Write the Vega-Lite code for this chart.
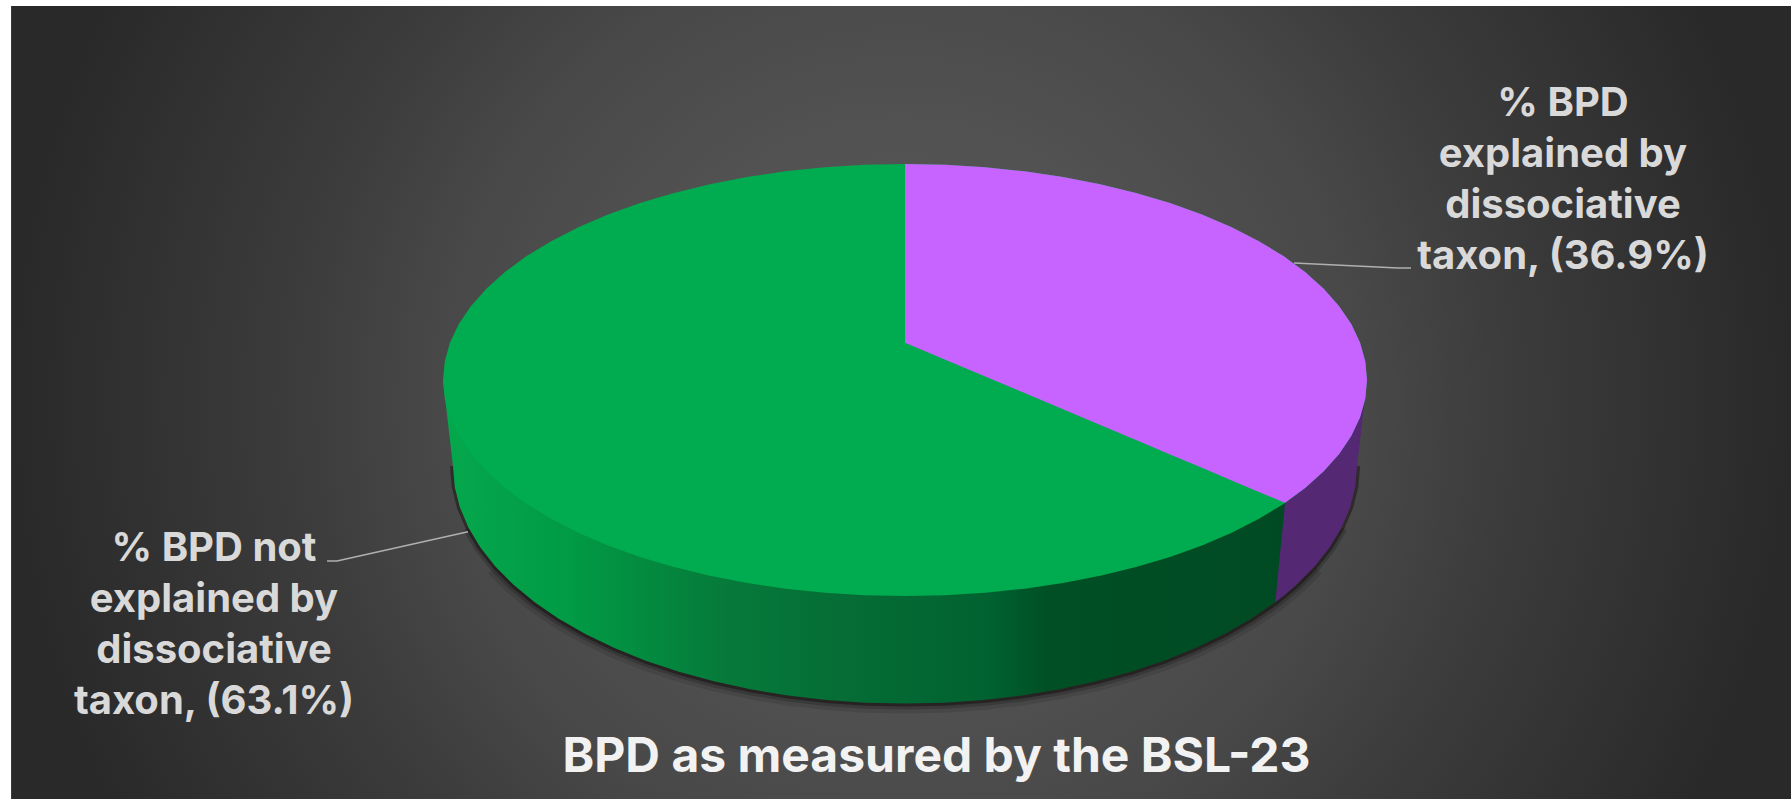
{
  "$schema": "https://vega.github.io/schema/vega-lite/v6.json",
  "width": 1791,
  "height": 799,
  "padding": 0,
  "autosize": {"type": "fit", "contains": "padding"},
  "background": "#ffffff",
  "view": {"stroke": null},
  "datasets": {
    "panel": [{"x": -193.5, "x2": 191.77, "y": 188.3, "y2": -196.9}],
    "margins": [
      {"x": -195.89, "x2": 191.77, "y": 82.25, "y2": 80.95},
      {"x": -195.89, "x2": -193.5, "y": 82.25, "y2": -90.69}
    ],
    "base": [
      {"x": -97.84, "y": -18.61}, {"x": -97.47, "y": -23.09}, {"x": -96.35, "y": -27.54},
      {"x": -94.5, "y": -31.92}, {"x": -91.94, "y": -36.2}, {"x": -88.67, "y": -40.34},
      {"x": -84.73, "y": -44.33}, {"x": -80.15, "y": -48.11}, {"x": -74.95, "y": -51.67},
      {"x": -69.18, "y": -54.98}, {"x": -62.89, "y": -58.01}, {"x": -56.12, "y": -60.74},
      {"x": -48.92, "y": -63.15}, {"x": -41.35, "y": -65.22}, {"x": -33.46, "y": -66.94},
      {"x": -25.32, "y": -68.29}, {"x": -16.99, "y": -69.26}, {"x": -8.53, "y": -69.84},
      {"x": 0, "y": -70.04},
      {"x": 8.53, "y": -69.84}, {"x": 16.99, "y": -69.26}, {"x": 25.32, "y": -68.29},
      {"x": 33.46, "y": -66.94}, {"x": 41.35, "y": -65.22}, {"x": 48.92, "y": -63.15},
      {"x": 56.12, "y": -60.74}, {"x": 62.89, "y": -58.01}, {"x": 69.18, "y": -54.98},
      {"x": 74.95, "y": -51.67}, {"x": 80.15, "y": -48.11}, {"x": 84.73, "y": -44.33},
      {"x": 88.67, "y": -40.34}, {"x": 91.94, "y": -36.2}, {"x": 94.5, "y": -31.92},
      {"x": 96.35, "y": -27.54}, {"x": 97.47, "y": -23.09}, {"x": 97.84, "y": -18.61}
    ],
    "greenWall": [
      {"x": -100, "y": 0, "y2": 0}, {"x": -97.84, "y": -18.61, "y2": 0}, {"x": -97.47, "y": -23.09, "y2": 0}, {"x": -96.35, "y": -27.54, "y2": 0},
      {"x": -94.5, "y": -31.92, "y2": 0}, {"x": -91.94, "y": -36.2, "y2": 0}, {"x": -88.67, "y": -40.34, "y2": 0},
      {"x": -84.73, "y": -44.33, "y2": 0}, {"x": -80.15, "y": -48.11, "y2": 0}, {"x": -74.95, "y": -51.67, "y2": 0},
      {"x": -69.18, "y": -54.98, "y2": 0}, {"x": -62.89, "y": -58.01, "y2": 0}, {"x": -56.12, "y": -60.74, "y2": 0},
      {"x": -48.92, "y": -63.15, "y2": 0}, {"x": -41.35, "y": -65.22, "y2": 0}, {"x": -33.46, "y": -66.94, "y2": 0},
      {"x": -25.32, "y": -68.29, "y2": 0}, {"x": -16.99, "y": -69.26, "y2": 0}, {"x": -8.53, "y": -69.84, "y2": 0},
      {"x": 0, "y": -70.04, "y2": 0},
      {"x": 8.53, "y": -69.84, "y2": 0}, {"x": 16.99, "y": -69.26, "y2": 0}, {"x": 25.32, "y": -68.29, "y2": 0},
      {"x": 33.46, "y": -66.94, "y2": 0}, {"x": 41.35, "y": -65.22, "y2": 0}, {"x": 48.92, "y": -63.15, "y2": 0},
      {"x": 56.12, "y": -60.74, "y2": 0}, {"x": 62.89, "y": -58.01, "y2": 0}, {"x": 69.18, "y": -54.98, "y2": 0},
      {"x": 74.95, "y": -51.67, "y2": 0}, {"x": 80.15, "y": -48.11, "y2": 0}, {"x": 84.73, "y": -44.33, "y2": 0}
    ],
    "purpleWall": [
      {"x": 80.15, "y": -48.11, "y2": -48.11}, {"x": 82.25, "y": -46.46, "y2": -26.59}, {"x": 84.73, "y": -44.33, "y2": 0},
      {"x": 88.67, "y": -40.34, "y2": 0}, {"x": 91.94, "y": -36.2, "y2": 0}, {"x": 94.5, "y": -31.92, "y2": 0},
      {"x": 96.35, "y": -27.54, "y2": 0}, {"x": 97.47, "y": -23.09, "y2": 0}, {"x": 97.84, "y": -18.61, "y2": 0}, {"x": 100, "y": 0, "y2": 0}
    ],
    "topFace": [
      {"x": -100, "y": 0, "y2": 0}, {"x": -99.62, "y": 4.08, "y2": -4.08}, {"x": -98.48, "y": 8.12, "y2": -8.12}, {"x": -96.59, "y": 12.1, "y2": -12.1},
      {"x": -93.97, "y": 15.99, "y2": -15.99}, {"x": -90.63, "y": 19.76, "y2": -19.76}, {"x": -86.6, "y": 23.38, "y2": -23.38},
      {"x": -81.92, "y": 26.82, "y2": -26.82}, {"x": -76.6, "y": 30.05, "y2": -30.05}, {"x": -70.71, "y": 33.06, "y2": -33.06},
      {"x": -64.28, "y": 35.81, "y2": -35.81}, {"x": -57.36, "y": 38.3, "y2": -38.3}, {"x": -50, "y": 40.49, "y2": -40.49},
      {"x": -42.26, "y": 42.37, "y2": -42.37}, {"x": -34.2, "y": 43.93, "y2": -43.93}, {"x": -25.88, "y": 45.16, "y2": -45.16},
      {"x": -17.36, "y": 46.04, "y2": -46.04}, {"x": -8.72, "y": 46.57, "y2": -46.57}, {"x": 0, "y": 46.75, "y2": -46.75},
      {"x": 8.72, "y": 46.57, "y2": -46.57}, {"x": 17.36, "y": 46.04, "y2": -46.04}, {"x": 25.88, "y": 45.16, "y2": -45.16},
      {"x": 34.2, "y": 43.93, "y2": -43.93}, {"x": 42.26, "y": 42.37, "y2": -42.37}, {"x": 50, "y": 40.49, "y2": -40.49},
      {"x": 57.36, "y": 38.3, "y2": -38.3}, {"x": 64.28, "y": 35.81, "y2": -35.81}, {"x": 70.71, "y": 33.06, "y2": -33.06},
      {"x": 76.6, "y": 30.05, "y2": -30.05}, {"x": 81.92, "y": 26.82, "y2": -26.82}, {"x": 86.6, "y": 23.38, "y2": -23.38},
      {"x": 90.63, "y": 19.76, "y2": -19.76}, {"x": 93.97, "y": 15.99, "y2": -15.99}, {"x": 96.59, "y": 12.1, "y2": -12.1},
      {"x": 98.48, "y": 8.12, "y2": -8.12}, {"x": 99.62, "y": 4.08, "y2": -4.08}, {"x": 100, "y": 0, "y2": 0}
    ],
    "purpleSlice": [
      {"x": 0, "y": 46.75, "y2": 8.07}, {"x": 8.72, "y": 46.57, "y2": 4.39}, {"x": 17.36, "y": 46.04, "y2": 0.75},
      {"x": 25.88, "y": 45.16, "y2": -2.84}, {"x": 34.2, "y": 43.93, "y2": -6.35}, {"x": 42.26, "y": 42.37, "y2": -9.74},
      {"x": 50, "y": 40.49, "y2": -13}, {"x": 57.36, "y": 38.3, "y2": -16.1}, {"x": 64.28, "y": 35.81, "y2": -19},
      {"x": 70.71, "y": 33.06, "y2": -21.73}, {"x": 76.6, "y": 30.05, "y2": -24.22}, {"x": 81.92, "y": 26.82, "y2": -26.46},
      {"x": 82.25, "y": 26.59, "y2": -26.59}, {"x": 86.6, "y": 23.38, "y2": -23.38}, {"x": 90.63, "y": 19.76, "y2": -19.76},
      {"x": 93.97, "y": 15.99, "y2": -15.99}, {"x": 96.59, "y": 12.1, "y2": -12.1}, {"x": 98.48, "y": 8.12, "y2": -8.12},
      {"x": 99.62, "y": 4.08, "y2": -4.08}, {"x": 100, "y": 0, "y2": 0}
    ],
    "leaders": [
      {"slice": "explained", "x": 84.2, "y": 25.32}, {"slice": "explained", "x": 106.71, "y": 24.24}, {"slice": "explained", "x": 109.52, "y": 24.24},
      {"slice": "not explained", "x": -125.1, "y": -39.18}, {"slice": "not explained", "x": -122.94, "y": -39.18}, {"slice": "not explained", "x": -94.59, "y": -32.84}
    ],
    "sliceLabels": [
      {"slice": "explained", "share": 36.9, "x": 142.42, "y": 57.14, "label": ["% BPD", "explained by", "dissociative", "taxon, (36.9%)"]},
      {"slice": "not explained", "share": 63.1, "x": -149.57, "y": -39.18, "label": ["% BPD not", "explained by", "dissociative", "taxon, (63.1%)"]}
    ],
    "heading": [{"x": 6.82, "y": -84.8, "label": "BPD as measured by the BSL-23"}]
  },
  "encoding": {
    "x": {"field": "x", "type": "quantitative", "axis": null, "scale": {"domain": [-195.89, 191.77], "nice": false, "zero": false}},
    "y": {"field": "y", "type": "quantitative", "axis": null, "scale": {"domain": [-90.69, 82.25], "nice": false, "zero": false}}
  },
  "layer": [
    {
      "data": {"name": "panel"},
      "mark": {
        "type": "rect",
        "clip": true,
        "color": {
          "gradient": "radial", "x1": 0.5, "y1": 0.5, "r1": 0, "x2": 0.5, "y2": 0.5, "r2": 0.5,
          "stops": [
            {"offset": 0, "color": "#5a5a5a"},
            {"offset": 0.3, "color": "#525252"},
            {"offset": 0.52, "color": "#484848"},
            {"offset": 0.68, "color": "#3c3c3c"},
            {"offset": 1, "color": "#292929"}
          ]
        }
      },
      "encoding": {"x2": {"field": "x2"}, "y2": {"field": "y2"}}
    },
    {
      "data": {"name": "margins"},
      "mark": {"type": "rect", "color": "#ffffff"},
      "encoding": {"x2": {"field": "x2"}, "y2": {"field": "y2"}}
    },
    {
      "data": {"name": "base"},
      "transform": [{"filter": "abs(datum.x) < 89"}],
      "mark": {"type": "line", "color": "#000000", "strokeWidth": 20, "opacity": 0.1}
    },
    {
      "data": {"name": "base"},
      "transform": [{"filter": "abs(datum.x) < 95"}],
      "mark": {"type": "line", "color": "#000000", "strokeWidth": 12, "opacity": 0.18}
    },
    {
      "data": {"name": "base"},
      "mark": {"type": "line", "color": "#120808", "strokeWidth": 6, "opacity": 0.45}
    },
    {
      "data": {"name": "greenWall"},
      "mark": {
        "type": "area",
        "color": {
          "gradient": "linear", "x1": 0, "y1": 0, "x2": 1, "y2": 0,
          "stops": [
            {"offset": 0, "color": "#05a84d"},
            {"offset": 0.15, "color": "#019a45"},
            {"offset": 0.33, "color": "#067a3a"},
            {"offset": 0.47, "color": "#056d35"},
            {"offset": 0.64, "color": "#006230"},
            {"offset": 0.71, "color": "#004f25"},
            {"offset": 1, "color": "#004a23"}
          ]
        }
      },
      "encoding": {"y2": {"field": "y2"}}
    },
    {
      "data": {"name": "purpleWall"},
      "mark": {"type": "area", "color": "#542873"},
      "encoding": {"y2": {"field": "y2"}}
    },
    {
      "data": {"name": "topFace"},
      "mark": {"type": "area", "color": "#00ac4f"},
      "encoding": {"y2": {"field": "y2"}}
    },
    {
      "data": {"name": "purpleSlice"},
      "mark": {"type": "area", "color": "#c763ff"},
      "encoding": {"y2": {"field": "y2"}}
    },
    {
      "data": {"name": "leaders"},
      "mark": {"type": "line", "color": "#b0b0b0", "strokeWidth": 1.5},
      "encoding": {"detail": {"field": "slice"}}
    },
    {
      "data": {"name": "sliceLabels"},
      "mark": {"type": "text", "font": "Inter", "fontWeight": "bold", "fontSize": 40, "lineHeight": 51, "align": "center", "baseline": "alphabetic", "color": "#d9d9d9"},
      "encoding": {"text": {"field": "label"}}
    },
    {
      "data": {"name": "heading"},
      "mark": {"type": "text", "font": "Inter", "fontWeight": "bold", "fontSize": 48, "align": "center", "baseline": "alphabetic", "color": "#f2f2f2"},
      "encoding": {"text": {"field": "label"}}
    }
  ]
}
